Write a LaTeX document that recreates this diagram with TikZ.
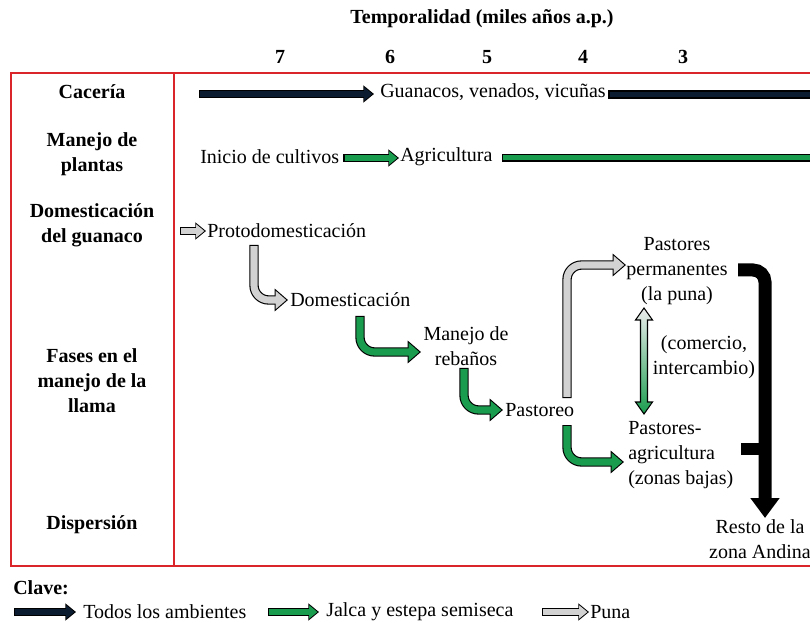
\documentclass[tikz,border=0pt]{standalone}
\usepackage{fontspec}
\setmainfont{Liberation Serif}
\usetikzlibrary{arrows.meta,calc}
\definecolor{navy}{RGB}{12,28,48}
\definecolor{lgreen}{RGB}{26,156,79}
\definecolor{lgray}{RGB}{210,210,210}
\definecolor{bred}{RGB}{218,37,42}
\tikzset{
  txt/.style={inner sep=0pt, font=\fontsize{15}{18.75}\selectfont},
  lbl/.style={inner sep=0pt, font=\fontsize{15}{18.75}\selectfont\bfseries, align=center},
  arrout/.style={line width=7pt, draw=black, rounded corners=11pt, -{Triangle[width=16.5pt,length=10pt]}},
  arrin/.style={line width=5.3pt, rounded corners=11pt, shorten >=1.3pt, shorten <=0.9pt, -{Triangle[width=13.3pt,length=8pt]}},
  sarrout/.style={line width=5.8pt, draw=black, -{Triangle[width=12.5pt,length=8pt]}},
  sarrin/.style={line width=4.2pt, shorten >=1.2pt, shorten <=0.9pt, -{Triangle[width=9.7pt,length=6.2pt]}},
  barstyle/.style={draw=black, line width=0.8pt},
  frame/.style={draw=bred, line width=1.5pt},
}
\newcommand\bentarrow[2]{\draw[arrout] #2; \draw[arrin, draw=#1] #2;}
\newcommand\straightarrow[2]{\draw[sarrout] #2; \draw[sarrin, draw=#1] #2;}
\begin{document}
\begin{tikzpicture}[x=0.75pt,y=-0.75pt]
\useasboundingbox (0,0) rectangle (810,623);
\clip (0,0) rectangle (810,623);

% frame
\draw[frame] (11,73) rectangle (840,566);
\draw[frame] (174,73) -- (174,566);

% header
\node[lbl] (title) at (482,19) {Temporalidad (miles años a.p.)};
\node[lbl] (n7) at (280,57) {7};
\node[lbl] (n6) at (390,57) {6};
\node[lbl] (n5) at (487,57) {5};
\node[lbl] (n4) at (583,57) {4};
\node[lbl] (n3) at (683,57) {3};

% row labels
\node[lbl] (caceria) at (92,92) {Cacería};
\node[lbl] (plantas) at (92,154) {Manejo de\\plantas};
\node[lbl] (domg) at (92,225) {Domesticación\\del guanaco};
\node[lbl] (fases) at (92,381) {Fases en el\\manejo de la\\llama};
\node[lbl] (disp) at (92,525) {Dispersión};

% Caceria row
\node[txt, anchor=west] (guan) at (380,92) {Guanacos, venados, vicuñas};
\coordinate (cacs) at (199,94);
\straightarrow{navy}{(cacs) -- ($(guan.west)+(-6,2)$)}
\fill[navy, barstyle] ($(guan.east)+(3,-1)$) rectangle (840,98);

% Plants row
\node[txt, anchor=west] (inicio) at (200,157) {Inicio de cultivos};
\node[txt, anchor=west] (agri) at (400,157) {Agricultura};
\straightarrow{lgreen}{($(inicio.east)+(4,1)$) -- ($(agri.west)+(-1,1)$)}
\fill[lgreen, barstyle] ($(agri.east)+(10,-2.5)$) rectangle (840,161);

% Domestication
\node[txt, anchor=west] (proto) at (207,231) {Protodomesticación};
\coordinate (pstart) at (180,231);
\straightarrow{lgray}{(pstart) -- ($(proto.west)+(-1,0)$)}
\node[txt, anchor=west] (dom) at (290,300) {Domesticación};
\bentarrow{lgray}{(254,245) |- ($(dom.west)+(-2,0)$)}

\node[txt, align=center] (manejo) at (466,346) {Manejo de\\rebaños};
\bentarrow{lgreen}{(360,316) |- (421,352)}

\node[txt, anchor=west] (pastoreo) at (505,410) {Pastoreo};
\bentarrow{lgreen}{(464,368) |- ($(pastoreo.west)+(-2,0)$)}

\node[txt, align=center] (pp) at (677,271) {Pastores\\permanentes\\(la puna)};
\bentarrow{lgray}{(567,398) |- (626,265)}

\node[txt, align=left, anchor=west] (pa) at (628,455) {Pastores-\\agricultura\\(zonas bajas)};
\bentarrow{lgreen}{(567,425) |- (624,462)}

% exchange double arrow
\draw[line width=0.8pt, top color=lgray!40, bottom color=lgreen]
  (644,308) -- (652.5,320) -- (647.5,320) -- (647.5,402) -- (652.5,402) -- (644,414)
  -- (635.5,402) -- (640.5,402) -- (640.5,320) -- (635.5,320) -- cycle;
\node[txt, align=center] (com) at (704,357) {(comercio,\\intercambio)};

% dispersion bracket
\node[txt, align=center] (resto) at (760,539) {Resto de la\\zona Andina};
\coordinate (btop) at (738,270);
\coordinate (bmid) at (741,449);
\draw[line width=9.75pt, rounded corners=9pt, -{Triangle[width=21pt,length=15pt]}] (btop) -| (765,518);
\draw[line width=9pt] (bmid) -- (765,449);

% legend
\node[lbl, anchor=west] (clave) at (13,588) {Clave:};
\node[txt, anchor=west] (l1) at (83,612) {Todos los ambientes};
\node[txt, anchor=west] (l2) at (326,612) {Jalca y estepa semiseca};
\node[txt, anchor=west] (l3) at (590,612) {Puna};
\straightarrow{navy}{(14,612) -- ($(l1.west)+(-7,0)$)}
\straightarrow{lgreen}{(268,612) -- ($(l2.west)+(-7,0)$)}
\straightarrow{lgray}{(542,612) -- ($(l3.west)+(-1,0)$)}
\end{tikzpicture}
\end{document}
